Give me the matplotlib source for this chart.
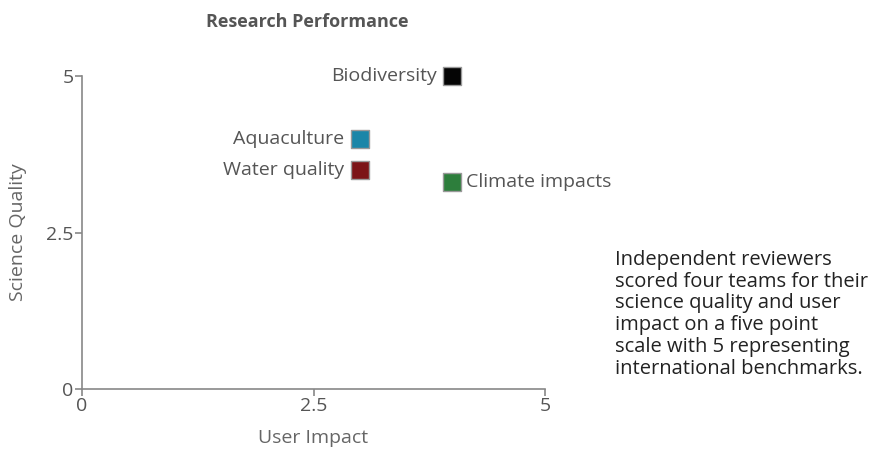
import matplotlib.pyplot as plt

# Scores for each research team
teams = ['Biodiversity', 'Aquaculture', 'Water quality', 'Climate impacts']
user_impact = [4.0, 3.0, 3.0, 4.0]
science_quality = [5.0, 4.0, 3.5, 3.3]
colors = ['#050505', '#1b86a8', '#7c1417', '#2d7e3c']
label_side = ['left', 'left', 'left', 'right']

plt.rcParams['font.family'] = ['Open Sans', 'DejaVu Sans']

fig = plt.figure(figsize=(8.82, 4.49), dpi=100)
ax = fig.add_axes([0.093, 0.1336, 0.525, 0.697])

for name, x, y, c, side in zip(teams, user_impact, science_quality, colors, label_side):
    ax.scatter(x, y, marker='s', s=170, color=c, edgecolors='#999999',
               linewidths=1, zorder=3, clip_on=False)
    if side == 'left':
        ax.annotate(name, (x, y), xytext=(-11, 0), textcoords='offset points',
                    ha='right', va='center', fontsize=14, color='#555555')
    else:
        ax.annotate(name, (x, y), xytext=(10, 0), textcoords='offset points',
                    ha='left', va='center', fontsize=14, color='#555555')

ax.set_xlim(0, 5)
ax.set_ylim(0, 5)
ax.set_xticks([0, 2.5, 5])
ax.set_yticks([0, 2.5, 5])
ax.set_xticklabels(['0', '2.5', '5'])
ax.set_yticklabels(['0', '2.5', '5'])

for s in ['top', 'right']:
    ax.spines[s].set_visible(False)
for s in ['left', 'bottom']:
    ax.spines[s].set_color('#888888')
    ax.spines[s].set_linewidth(1.2)
ax.tick_params(colors='#888888', labelcolor='#555555', labelsize=14,
               length=5, width=1.2, pad=1)

ax.set_xlabel('User Impact', fontsize=14, color='#666666', labelpad=10)
ax.set_ylabel('Science Quality', fontsize=14, color='#666666', labelpad=14)

fig.text(0.348, 0.951, 'Research Performance', ha='center', va='center',
         fontsize=13, fontweight='bold', color='#555555')

fig.text(0.697, 0.30,
         'Independent reviewers\nscored four teams for their\n'
         'science quality and user\nimpact on a five point\n'
         'scale with 5 representing\ninternational benchmarks.',
         ha='left', va='center', fontsize=14.5, color='#222222', linespacing=1.12)

fig.savefig('out.png', dpi=100)
